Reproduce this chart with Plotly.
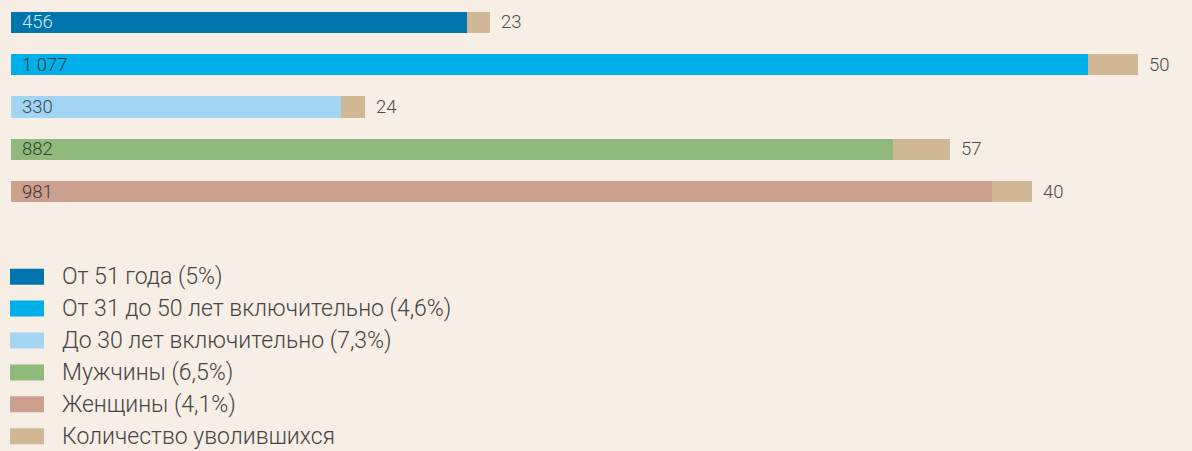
import plotly.graph_objects as go

# Staff turnover by group: headcount of each group and number who left
categories = ["От 51 года (5%)", "От 31 до 50 лет включительно (4,6%)",
              "До 30 лет включительно (7,3%)", "Мужчины (6,5%)", "Женщины (4,1%)"]
staff = [456, 1077, 330, 882, 981]
left_count = [23, 50, 24, 57, 40]
staff_labels = ["456", "1 077", "330", "882", "981"]
left_labels = ["23", "50", "24", "57", "40"]
quit_name = "Количество уволившихся"

group_colors = ["#0074ad", "#00b0e9", "#a3d4f2", "#8fba7b", "#cca08f"]
quit_color = "#cfb893"
inside_text_colors = ["#d6e6f0", "#2b3a44", "#3c4650", "#33402e", "#3d3530"]
bg = "#f7eee6"

W, H = 1192, 451
M_L, M_R, M_T, M_B = 11, 0, 1, 238
plot_h = H - M_T - M_B
plot_w = W - M_L - M_R

fig = go.Figure()
fig.add_trace(go.Bar(
    y=categories, x=staff, orientation="h",
    marker=dict(color=group_colors, line=dict(width=0)),
    showlegend=False, hoverinfo="x+y",
))
fig.add_trace(go.Bar(
    y=categories, x=left_count, orientation="h",
    marker=dict(color=quit_color, line=dict(width=0)),
    showlegend=False, hoverinfo="x+y", name=quit_name,
))

font_family = "Roboto, 'DejaVu Sans', sans-serif"

# value labels inside (group size) and after the bar (leavers)
for cat, s, l, sl, ll, tc in zip(categories, staff, left_count, staff_labels,
                                  left_labels, inside_text_colors):
    fig.add_annotation(x=0, y=cat, text=sl, showarrow=False, xanchor="left",
                       xshift=9, yshift=0,
                       font=dict(family=font_family, size=18.5, color=tc, weight=300))
    fig.add_annotation(x=s + l, y=cat, text=ll, showarrow=False, xanchor="left",
                       xshift=9, yshift=0,
                       font=dict(family=font_family, size=18.5, color="#4a4a4a", weight=300))


def px_x(x):
    return (x - M_L) / plot_w


def px_y(y):
    return (H - M_B - y) / plot_h


# legend drawn as swatches + labels below the plot
legend_names = categories + [quit_name]
legend_colors = group_colors + [quit_color]
row0, step = 276.7, 31.9
for i, (name, col) in enumerate(zip(legend_names, legend_colors)):
    yc = row0 + i * step
    fig.add_shape(type="rect", xref="paper", yref="paper",
                  x0=px_x(10), x1=px_x(44), y0=px_y(yc + 8), y1=px_y(yc - 8),
                  fillcolor=col, line=dict(width=0))
    fig.add_annotation(xref="paper", yref="paper", x=px_x(60), y=px_y(yc),
                       text=name, showarrow=False, xanchor="left", yanchor="middle",
                       font=dict(family=font_family, size=23, color="#444444", weight=300))

fig.update_layout(
    width=W, height=H,
    margin=dict(l=M_L, r=M_R, t=M_T, b=M_B, pad=0),
    barmode="stack", bargap=0.5,
    paper_bgcolor=bg, plot_bgcolor=bg,
    xaxis=dict(range=[0, plot_w], visible=False, fixedrange=True),
    yaxis=dict(visible=False, autorange="reversed", fixedrange=True),
    showlegend=False,
)

fig.write_html("out.html")
